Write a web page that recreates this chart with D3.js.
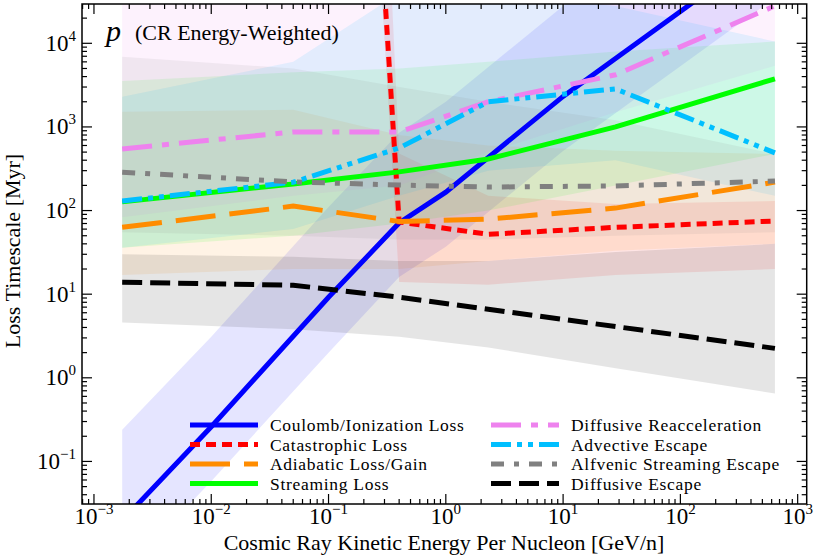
<!DOCTYPE html>
<html>
<head>
<meta charset="utf-8">
<script src="https://cdn.jsdelivr.net/npm/d3@7"></script>
<style>
  body { margin: 0; background: #fff; }
  svg { display: block; }
  text { font-family: "Liberation Serif", serif; fill: #000; }
</style>
</head>
<body>
<div id="chart"></div>
<script>
// energy grid (GeV/n) shared by most loss channels
const energy = [0.00174, 0.05, 0.4, 2.3, 28, 640];

// Coulomb / ionization (read on its own grid, it bends smoothly)
const coulombEnergy = [0.00174, 0.01, 0.1, 0.4, 1, 10, 100, 640];
const coulomb   = [0.0196, 0.26, 9.2, 71, 166, 2320, 24000, 160000];
const coulombLo = [0.0044, 0.058, 2.0, 16, 37, 515, 5300, 35000];
const coulombHi = [0.24, 3.1, 110, 850, 2000, 28000, 290000, 1.9e6];

// timescales in Myr, median and 16-84% band
const catastrophic   = [7e21, 7e21, 73, 52, 63, 75];
const catastrophicLo = [1e22, 1e22, 14, 13, 17, 20];
const catastrophicHi = [1e30, 1e30, 480, 150, 120, 130];

const adiabatic   = [63, 113, 74, 79, 107, 219];
const adiabaticLo = [17, 20, 20, 25, 33, 40];
const adiabaticHi = [1520, 1600, 800, 600, 520, 475];

const streaming   = [127, 208, 290, 414, 1000, 3760];
const streamingLo = [36, 50, 70, 100, 200, 475];
const streamingHi = [3550, 4500, 5000, 6000, 8000, 10500];

const reaccel   = [546, 870, 870, 2000, 4200, 28000];
const reaccelLo = [83, 150, 200, 500, 1500, 5400];
const reaccelHi = [1e5, 1e5, 1e5, 2e5, 3e5, 1e6];

const advective   = [130, 218, 560, 2000, 2850, 490];
const advectiveLo = [36, 60, 150, 300, 400, 150];
const advectiveHi = [2300, 6000, 40000, 40000, 28000, 10500];

const alfvenic   = [288, 220, 202, 191, 197, 225];
const alfvenicLo = [55, 50, 45, 45, 50, 55];
const alfvenicHi = [6900, 5000, 3000, 2000, 1200, 475];

const diffusive   = [13.9, 12.8, 9.2, 6.6, 4.1, 2.25];
const diffusiveLo = [4.6, 3.8, 3.1, 2.3, 1.3, 0.65];
const diffusiveHi = [30, 28, 25, 25, 32, 40];

const xTicks = [-3, -2, -1, 0, 1, 2, 3];
const yTicks = [-1, 0, 1, 2, 3, 4];

const series = [
  {name: 'Coulomb/Ionization Loss', x: coulombEnergy, y: coulomb, lo: coulombLo, hi: coulombHi, color: '#0000ff', dash: null},
  {name: 'Catastrophic Loss', x: energy, y: catastrophic, lo: catastrophicLo, hi: catastrophicHi, color: '#ff0000', dash: '10,6'},
  {name: 'Adiabatic Loss/Gain', x: energy, y: adiabatic, lo: adiabaticLo, hi: adiabaticHi, color: '#ff8c00', dash: '40,14'},
  {name: 'Streaming Loss', x: energy, y: streaming, lo: streamingLo, hi: streamingHi, color: '#00ff00', dash: null},
  {name: 'Diffusive Reacceleration', x: energy, y: reaccel, lo: reaccelLo, hi: reaccelHi, color: '#ee82ee', dash: '30,10,7,10'},
  {name: 'Advective Escape', x: energy, y: advective, lo: advectiveLo, hi: advectiveHi, color: '#00bfff', dash: '20,6,5,6,5,6'},
  {name: 'Alfvenic Streaming Escape', x: energy, y: alfvenic, lo: alfvenicLo, hi: alfvenicHi, color: '#808080', dash: '13,10,5,10'},
  {name: 'Diffusive Escape', x: energy, y: diffusive, lo: diffusiveLo, hi: diffusiveHi, color: '#000000', dash: '20,8'}
];

const W = 814, H = 560;
const box = {left: 82, right: 806.7, top: 4, bottom: 504};

const x = d3.scaleLog()
  .domain([Math.pow(10, -3.102), Math.pow(10, 3.077)])
  .range([box.left, box.right]);
const y = d3.scaleLog()
  .domain([Math.pow(10, -1.509), Math.pow(10, 4.47)])
  .range([box.bottom, box.top]);

const svg = d3.select('#chart').append('svg')
  .attr('width', W)
  .attr('height', H);

svg.append('clipPath').attr('id', 'plotclip')
  .append('rect')
  .attr('x', box.left).attr('y', box.top)
  .attr('width', box.right - box.left)
  .attr('height', box.bottom - box.top);

const plot = svg.append('g').attr('clip-path', 'url(#plotclip)');

// shaded bands
series.forEach(s => {
  const area = d3.area()
    .x((d, i) => x(s.x[i]))
    .y0((d, i) => y(s.lo[i]))
    .y1((d, i) => y(s.hi[i]));
  plot.append('path')
    .attr('d', area(s.y))
    .attr('fill', s.color)
    .attr('fill-opacity', 0.1)
    .attr('stroke', 'none');
});

// median lines
series.forEach(s => {
  const line = d3.line()
    .x((d, i) => x(s.x[i]))
    .y(d => y(d));
  plot.append('path')
    .attr('d', line(s.y))
    .attr('fill', 'none')
    .attr('stroke', s.color)
    .attr('stroke-width', 5)
    .attr('stroke-dasharray', s.dash);
});

// frame + inward ticks
const axes = svg.append('g').attr('stroke', '#000').attr('stroke-width', 1.2);
for (let k = -4; k <= 4; k++) {
  for (let j = 1; j <= 9; j++) {
    const v = j * Math.pow(10, k);
    const len = j === 1 ? 10 : 5;
    if (v >= x.domain()[0] && v <= x.domain()[1]) {
      const px = x(v);
      axes.append('line').attr('x1', px).attr('x2', px).attr('y1', box.bottom).attr('y2', box.bottom - len);
      axes.append('line').attr('x1', px).attr('x2', px).attr('y1', box.top).attr('y2', box.top + len);
    }
    if (v >= y.domain()[0] && v <= y.domain()[1]) {
      const py = y(v);
      axes.append('line').attr('y1', py).attr('y2', py).attr('x1', box.left).attr('x2', box.left + len);
      axes.append('line').attr('y1', py).attr('y2', py).attr('x1', box.right).attr('x2', box.right - len);
    }
  }
}
svg.append('rect')
  .attr('x', box.left).attr('y', box.top)
  .attr('width', box.right - box.left)
  .attr('height', box.bottom - box.top)
  .attr('fill', 'none')
  .attr('stroke', '#000')
  .attr('stroke-width', 1.5);

function powLabel(sel, k) {
  sel.append('tspan').text('10');
  sel.append('tspan')
    .attr('dy', -10)
    .attr('font-size', 15)
    .text(k < 0 ? '\u2212' + Math.abs(k) : String(k));
}

xTicks.forEach(k => {
  const t = svg.append('text')
    .attr('x', x(Math.pow(10, k)))
    .attr('y', 524)
    .attr('text-anchor', 'middle')
    .attr('font-size', 23);
  powLabel(t, k);
});
yTicks.forEach(k => {
  const t = svg.append('text')
    .attr('x', 76)
    .attr('y', y(Math.pow(10, k)) + 7.5)
    .attr('text-anchor', 'end')
    .attr('font-size', 23);
  powLabel(t, k);
});

svg.append('text')
  .attr('x', 444)
  .attr('y', 550)
  .attr('text-anchor', 'middle')
  .attr('font-size', 22)
  .text('Cosmic Ray Kinetic Energy Per Nucleon [GeV/n]');

svg.append('text')
  .attr('transform', 'translate(20,251) rotate(-90)')
  .attr('text-anchor', 'middle')
  .attr('font-size', 22)
  .text('Loss Timescale [Myr]');

// panel label
svg.append('text')
  .attr('x', 106).attr('y', 41)
  .attr('font-size', 30)
  .attr('font-style', 'italic')
  .text('p');
svg.append('text')
  .attr('x', 135).attr('y', 40)
  .attr('font-size', 22)
  .text('(CR Energy-Weighted)');

// legend, two columns of four
const legend = svg.append('g');
series.forEach((s, i) => {
  const col = Math.floor(i / 4), row = i % 4;
  const x0 = col === 0 ? 190 : 491;
  const yy = 425 + row * 19.5;
  legend.append('line')
    .attr('x1', x0).attr('x2', x0 + 68)
    .attr('y1', yy).attr('y2', yy)
    .attr('stroke', s.color)
    .attr('stroke-width', 5)
    .attr('stroke-dasharray', s.dash);
  legend.append('text')
    .attr('x', x0 + 80)
    .attr('y', yy + 6)
    .attr('font-size', 17.5)
    .attr('letter-spacing', 0.7)
    .text(s.name);
});
</script>
</body>
</html>
